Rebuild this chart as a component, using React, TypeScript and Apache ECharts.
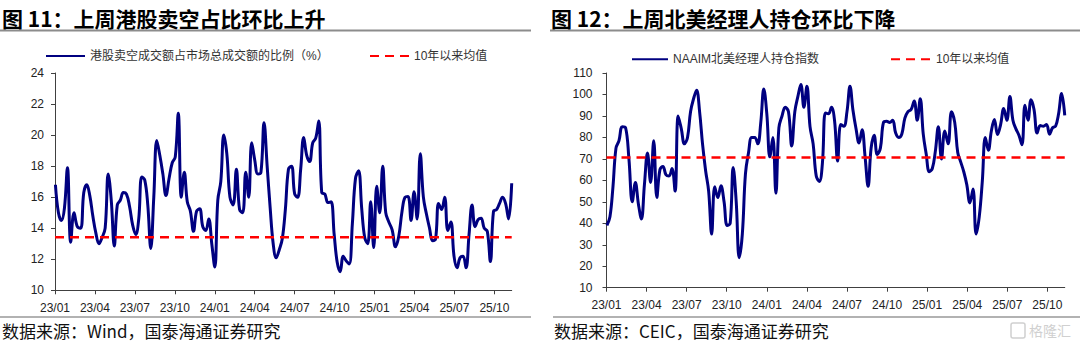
import React, { useEffect, useRef } from "react";
import * as echarts from "echarts";

// ---------- data ----------
const START_DATE = "2023-01-02"; // first weekly observation
const quarterLabels = ["23/01", "23/04", "23/07", "23/10", "24/01", "24/04", "24/07", "24/10", "25/01", "25/04", "25/07", "25/10"];

const hkShortName = "港股卖空成交额占市场总成交额的比例（%）";
const hkShortRatio = [
  16.8, 15.0, 14.5, 15.3, 17.9, 13.1, 15.0, 14.1, 14.0, 16.3,
  16.8, 16.1, 14.8, 13.7, 13.0, 13.4, 14.0, 17.5, 15.8, 12.85,
  15.5, 15.8, 16.3, 16.2, 15.4, 14.2, 13.6, 14.6, 17.3, 17.1,
  15.5, 12.7, 16.0, 19.65, 18.7, 17.5, 16.1, 17.2, 18.2, 18.6,
  21.4, 16.0, 17.6, 15.7, 15.1, 13.8, 15.1, 15.25, 14.1,
  13.85, 14.6, 13.0, 11.5, 15.8, 17.0, 20.0, 18.8, 16.0, 15.5,
  17.8, 15.2, 15.0, 17.6, 16.0, 19.5, 18.4, 17.5, 17.6, 20.8,
  18.0, 15.3, 13.0, 12.1, 12.6, 13.3, 15.2, 17.8, 18.0, 16.2,
  16.0, 17.8, 19.85, 18.7, 18.3, 19.5, 19.8, 20.9, 16.3, 16.2,
  15.65, 15.7, 13.6, 11.8, 11.2, 12.2, 11.9, 11.7, 14.3,
  17.2, 17.7, 15.3, 13.4, 13.0, 15.7, 12.75, 16.7, 15.0, 18.0,
  15.0, 14.4, 13.9, 12.8, 13.5, 15.1, 16.0, 16.05, 14.5, 16.35,
  14.6, 18.8, 16.0, 14.9, 14.0, 13.2, 13.3, 15.6, 15.2, 16.0,
  13.85, 14.4, 12.2, 11.45, 12.1, 12.2, 11.45, 13.6, 15.5, 14.1,
  14.55, 14.65, 14.0, 13.8, 11.85, 15.1, 15.2, 15.6, 16.0, 15.6,
  14.6, 16.9,
];
const hkShortMean = 13.42;

const naaimName = "NAAIM北美经理人持仓指数";
const naaimIndex = [
  39.0, 43, 57, 75, 78.5, 85, 84.5, 70, 50, 59,
  49, 42, 58, 72.7, 59, 78.5, 52, 65, 66.5, 62.6,
  62, 65.5, 55, 90, 84, 77, 80, 92, 98, 102,
  92, 76.6, 64.5, 55, 35, 57, 52, 57.5, 50, 39,
  40, 66, 50, 24, 35, 63, 73, 80, 80,
  77, 87, 102.5, 91, 71, 80, 54, 84.4, 90, 94,
  92, 76, 92, 99, 104.6, 94, 103.8, 85, 77, 62,
  59.5, 68, 91.4, 91, 94, 88, 69, 86, 85.2, 92,
  103.8, 92.5, 84, 77.4, 83.6, 71, 57.2, 75, 81, 72,
  75, 87, 87.5, 87, 88, 82, 80, 81.5,
  89, 92, 93, 97, 88, 98, 81.5, 72, 64, 65.5,
  73.5, 85, 70, 83, 77, 92, 87, 73, 68.5, 64,
  58, 49.5, 56, 35, 43, 59.5, 80, 74, 83, 88.3,
  81.3, 86, 93.5, 88, 99, 88, 84, 81, 76.6, 95,
  88, 97.5, 93, 82, 85.5, 85.2, 86, 81.5, 84.5, 85.2,
  91, 100.5, 90.3,
];
const naaimMean = 70.7;

const meanName = "10年以来均值";

// ---------- helpers ----------
function weeklyDates(n: number): Date[] {
  const start = new Date(START_DATE + "T00:00:00Z");
  const out: Date[] = [];
  for (let i = 0; i < n; i++) out.push(new Date(start.getTime() + i * 7 * 86400000));
  return out;
}
function monthPos(d: Date): number {
  const y = d.getUTCFullYear();
  const m = d.getUTCMonth();
  const dim = new Date(Date.UTC(y, m + 1, 0)).getUTCDate();
  return (y - 2023) * 12 + m + (d.getUTCDate() - 1) / dim;
}
const tickValues = quarterLabels.map((_, i) => i * 3);
const fmtTick = (v: number) => quarterLabels[Math.round(v / 3)] ?? "";

const SANS = '"Liberation Sans", Arial, "Noto Sans CJK SC", sans-serif';
const CJK = '"Noto Sans CJK SC", sans-serif';

export default function App() {
  const ref = useRef<HTMLDivElement>(null);

  useEffect(() => {
    document.body.style.margin = "0";
    if (!ref.current) return;
    const chart = echarts.init(ref.current, undefined, { renderer: "svg" });

    const hkDates = weeklyDates(hkShortRatio.length);
    const nDates = weeklyDates(naaimIndex.length);
    const hkData = hkShortRatio.map((v, i) => [monthPos(hkDates[i]), v]);
    const nData = naaimIndex.map((v, i) => [monthPos(nDates[i]), v]);
    const hkLast = hkData[hkData.length - 1][0];
    const nLast = nData[nData.length - 1][0];

    const axisColor = "#404040";
    const xAxisBase = (gridIndex: number, max: number, margin: number) => ({
      type: "value",
      gridIndex,
      min: 0,
      max,
      axisLine: { show: true, lineStyle: { color: axisColor, width: 1 } },
      axisTick: { show: true, customValues: tickValues, length: 4, lineStyle: { color: axisColor } },
      axisLabel: {
        customValues: tickValues,
        formatter: fmtTick,
        margin,
        fontSize: 12,
        color: "#222",
        fontFamily: SANS,
      },
      splitLine: { show: false },
    });
    const yAxisBase = (gridIndex: number, min: number, max: number, interval: number, margin: number) => ({
      type: "value",
      gridIndex,
      min,
      max,
      interval,
      axisLine: { show: true, lineStyle: { color: axisColor, width: 1 } },
      axisTick: { show: true, length: 4, lineStyle: { color: axisColor } },
      axisLabel: { margin, fontSize: 12, color: "#222", fontFamily: SANS },
      splitLine: { show: false },
    });
    const legendBase = (name: string, left: number, center: number, itemWidth: number) => ({
      data: [name],
      left,
      top: center - 1.5,
      padding: 0,
      itemWidth,
      itemHeight: 3,
      itemGap: 0,
      selectedMode: false,
      itemStyle: { color: "rgba(0,0,0,0)", borderWidth: 0, opacity: 0 },
      textStyle: { fontSize: 12, color: "#333", fontFamily: SANS },
    });

    const option: any = {
      animation: false,
      backgroundColor: "#ffffff",
      grid: [
        { left: 55, top: 73, width: hkLast * 13.315, height: 217.3, containLabel: false, outerBoundsMode: "none" },
        { left: 606.5, top: 73, width: nLast * 13.36, height: 214.7, containLabel: false, outerBoundsMode: "none" },
      ],
      xAxis: [xAxisBase(0, hkLast, 12), xAxisBase(1, nLast, 11)],
      yAxis: [yAxisBase(0, 10, 24, 2, 11), yAxisBase(1, 10, 110, 10, 14)],
      legend: [
        legendBase(hkShortName, 45, 51.5, 39),
        legendBase(meanName, 369, 51.5, 39),
        legendBase(naaimName, 631, 54.7, 36),
        legendBase(meanName, 890, 54.7, 40),
      ],
      series: [
        {
          type: "line",
          name: hkShortName,
          xAxisIndex: 0,
          yAxisIndex: 0,
          data: hkData,
          symbol: "none",
          showSymbol: false,
          smooth: 0.4,
          lineStyle: { color: "#000080", width: 3 },
          itemStyle: { color: "#000080" },
        },
        {
          type: "line",
          name: meanName,
          xAxisIndex: 0,
          yAxisIndex: 0,
          data: [[0, hkShortMean], [hkLast, hkShortMean]],
          symbol: "none",
          showSymbol: false,
          lineStyle: { color: "#FF0000", width: 2.5, type: [9, 6] },
          itemStyle: { color: "#FF0000" },
        },
        {
          type: "line",
          name: naaimName,
          xAxisIndex: 1,
          yAxisIndex: 1,
          data: nData,
          symbol: "none",
          showSymbol: false,
          smooth: 0.4,
          lineStyle: { color: "#000080", width: 3 },
          itemStyle: { color: "#000080" },
        },
        {
          type: "line",
          name: meanName,
          xAxisIndex: 1,
          yAxisIndex: 1,
          data: [[0, naaimMean], [nLast, naaimMean]],
          symbol: "none",
          showSymbol: false,
          lineStyle: { color: "#FF0000", width: 2.5, type: [9, 6] },
          itemStyle: { color: "#FF0000" },
        },
      ],
      graphic: [
        {
          type: "text",
          x: 2,
          y: 17.5,
          style: { text: "图 11：上周港股卖空占比环比上升", font: `bold 21px ${CJK}`, fill: "#000", verticalAlign: "middle" },
        },
        {
          type: "text",
          x: 551,
          y: 17.5,
          style: { text: "图 12：上周北美经理人持仓环比下降", font: `bold 21px ${CJK}`, fill: "#000", verticalAlign: "middle" },
        },
        { type: "line", shape: { x1: 0, y1: 30.5, x2: 531, y2: 30.5 }, style: { stroke: "#8c8c8c", lineWidth: 2 } },
        { type: "line", shape: { x1: 550, y1: 30.5, x2: 1080, y2: 30.5 }, style: { stroke: "#8c8c8c", lineWidth: 2 } },
        { type: "line", shape: { x1: 0, y1: 317, x2: 531, y2: 317 }, style: { stroke: "#999", lineWidth: 1.5 } },
        { type: "line", shape: { x1: 553, y1: 317, x2: 1080, y2: 317 }, style: { stroke: "#999", lineWidth: 1.5 } },
        {
          type: "text",
          x: 2,
          y: 330,
          style: { text: "数据来源：Wind，国泰海通证券研究", font: `17px ${CJK}`, fill: "#111", verticalAlign: "middle" },
        },
        {
          type: "text",
          x: 554,
          y: 330,
          style: { text: "数据来源：CEIC，国泰海通证券研究", font: `17px ${CJK}`, fill: "#111", verticalAlign: "middle" },
        },
        {
          type: "rect",
          shape: { x: 1011, y: 323, width: 14, height: 15, r: 2 },
          style: { fill: "none", stroke: "#d0d0d0", lineWidth: 1.5 },
        },
        {
          type: "text",
          x: 1029,
          y: 330,
          style: { text: "格隆汇", font: `14px ${CJK}`, fill: "#d0d0d0", verticalAlign: "middle" },
        },
      ],
    };

    chart.setOption(option);
    return () => chart.dispose();
  }, []);

  return (
    <div
      ref={ref}
      style={{ position: "absolute", left: 0, top: 0, width: 1080, height: 343, background: "#fff" }}
    />
  );
}
